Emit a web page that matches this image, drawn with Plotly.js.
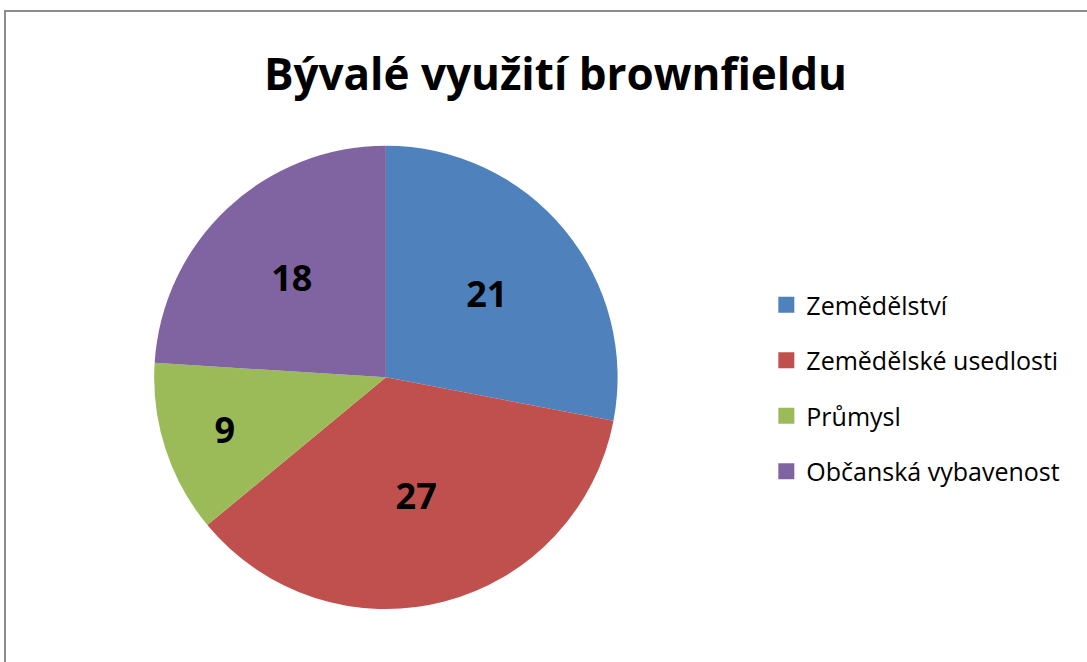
<!DOCTYPE html>
<html>
<head>
<meta charset="utf-8">
<script src="https://cdn.plot.ly/plotly-3.0.1.min.js"></script>
<style>
  html, body { margin: 0; padding: 0; background: #ffffff; overflow: hidden; }
  #frame { position: absolute; left: 4px; top: 10px; width: 1100px; height: 700px; border: 2px solid #8c8c8c; box-sizing: border-box; }
  #chart { position: absolute; left: 0; top: 0; width: 1087px; height: 662px; }
</style>
</head>
<body>
<div id="frame"></div>
<div id="chart"></div>
<script>
const categories = ["Zemědělství", "Zemědělské usedlosti", "Průmysl", "Občanská vybavenost"];
const values = [21, 27, 9, 18];
const colors = ["#4F81BD", "#C0504D", "#9BBB59", "#8064A2"];
const titleText = "Bývalé využití brownfieldu";

const FONT = "'Open Sans', 'Noto Sans', sans-serif";

const pie = {
  type: "pie",
  labels: categories,
  values: values,
  sort: false,
  direction: "clockwise",
  rotation: 0,
  marker: { colors: colors, line: { width: 0 } },
  textinfo: "value",
  textposition: "inside",
  insidetextorientation: "horizontal",
  textfont: { family: FONT, size: 36, color: "#000000", weight: "bold" },
  showlegend: false,
  hoverinfo: "label+value+percent",
  domain: { x: [0.10, 0.61], y: [0.08, 0.78] }
};

const legendTraces = categories.map((c, i) => ({
  type: "scatter",
  mode: "markers",
  x: [null], y: [null],
  name: c,
  legendgroup: "g" + i,
  marker: { symbol: "square", size: 16, color: colors[i] },
  showlegend: true,
  hoverinfo: "skip"
}));

const layout = {
  width: 1087, height: 662,
  margin: { l: 0, r: 0, t: 0, b: 0 },
  paper_bgcolor: "rgba(0,0,0,0)",
  plot_bgcolor: "rgba(0,0,0,0)",
  title: {
    text: "<b>" + titleText + "</b>",
    font: { family: FONT, size: 44, color: "#000000" },
    x: 0.511, xanchor: "center",
    y: 0.888, yanchor: "middle"
  },
  xaxis: { visible: false, domain: [0.7, 0.71] },
  yaxis: { visible: false, domain: [0.5, 0.51] },
  showlegend: true,
  legend: {
    x: 0.705, xanchor: "left",
    y: 0.574, yanchor: "top",
    font: { family: FONT, size: 25, color: "#000000" },
    tracegroupgap: 20,
    itemwidth: 30,
    itemsizing: "trace",
    bgcolor: "rgba(0,0,0,0)"
  }
};

Plotly.newPlot("chart", [pie].concat(legendTraces), layout, { displayModeBar: false, staticPlot: true });
</script>
</body>
</html>
